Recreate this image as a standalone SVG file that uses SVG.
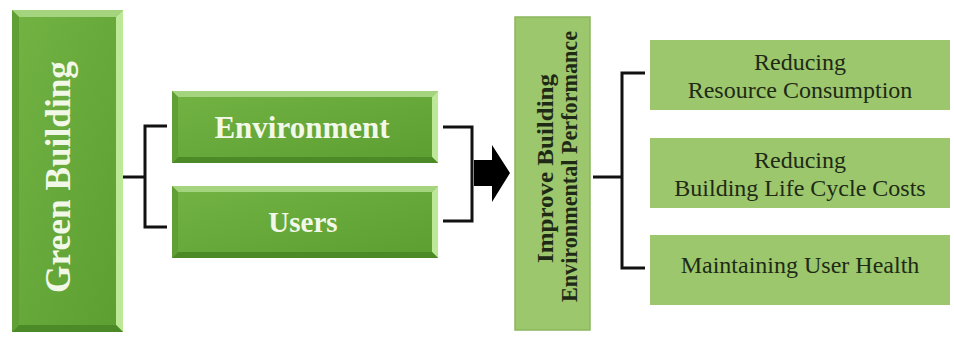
<svg xmlns="http://www.w3.org/2000/svg" width="954" height="338" viewBox="0 0 954 338">
<defs>
<linearGradient id="face" x1="0" y1="0" x2="1" y2="1">
<stop offset="0" stop-color="#72b344"/>
<stop offset="1" stop-color="#5c9e30"/>
</linearGradient>
<style>
.bt{fill:#a4d47e}
.br{fill:#bde898}
.bb{fill:#4b8a26}
.bl{fill:#5f9f33}
.face{fill:url(#face)}
.wt{font-family:"Liberation Serif","Times New Roman",serif;font-weight:bold;fill:#f2f8e8;text-anchor:middle}
.dt{font-family:"Liberation Serif","Times New Roman",serif;fill:#1e2a16;text-anchor:middle;font-size:24px}
.flat{fill:#9cc76c}
.ln{fill:none;stroke:#111;stroke-width:3}
</style>
</defs>
<rect width="954" height="338" fill="#ffffff"/>
<g id="green-building">
<rect x="12" y="10" width="111" height="322" class="face"/>
<polygon points="12,10 123,10 116,17 19,17" class="bt"/>
<polygon points="123,10 123,332 116,325 116,17" class="br"/>
<polygon points="12,332 123,332 116,325 19,325" class="bb"/>
<polygon points="12,10 19,17 19,325 12,332" class="bl"/>
<text class="wt" font-size="35" textLength="232" lengthAdjust="spacingAndGlyphs" transform="translate(70,177) rotate(-90)">Green Building</text>
</g>
<g id="environment">
<rect x="172" y="91" width="266" height="72" class="face"/>
<polygon points="172,91 438,91 432,97 178,97" class="bt"/>
<polygon points="438,91 438,163 432,157 432,97" class="br"/>
<polygon points="172,163 438,163 432,157 178,157" class="bb"/>
<polygon points="172,91 178,97 178,157 172,163" class="bl"/>
<text class="wt" x="302" y="138" font-size="31">Environment</text>
</g>
<g id="users">
<rect x="172" y="186" width="266" height="72" class="face"/>
<polygon points="172,186 438,186 432,192 178,192" class="bt"/>
<polygon points="438,186 438,258 432,252 432,192" class="br"/>
<polygon points="172,258 438,258 432,252 178,252" class="bb"/>
<polygon points="172,186 178,192 178,252 172,258" class="bl"/>
<text class="wt" x="303" y="232" font-size="29">Users</text>
</g>
<g id="improve">
<rect x="515" y="17" width="75" height="313" class="flat" stroke="#8ab75c" stroke-width="1.5"/>
<text class="dt" font-weight="bold" font-size="22" textLength="189" lengthAdjust="spacingAndGlyphs" transform="translate(553,168.5) rotate(-90)">Improve Building</text>
<text class="dt" font-weight="bold" font-size="22" textLength="271" lengthAdjust="spacingAndGlyphs" transform="translate(577,166.5) rotate(-90)">Environmental Performance</text>
</g>
<g id="reducing-resource">
<rect x="650" y="40" width="300" height="70" class="flat"/>
<text class="dt" x="800" y="70">Reducing</text>
<text class="dt" x="800" y="98">Resource Consumption</text>
</g>
<g id="reducing-costs">
<rect x="650" y="138" width="300" height="70" class="flat"/>
<text class="dt" x="800" y="168">Reducing</text>
<text class="dt" x="800" y="196">Building Life Cycle Costs</text>
</g>
<g id="maintaining-health">
<rect x="650" y="235" width="300" height="70" class="flat"/>
<text class="dt" x="800" y="273">Maintaining User Health</text>
</g>
<g id="connectors">
<path class="ln" d="M123,177 H145 M167,126 H145 V227 H167"/>
<path class="ln" d="M443,127 H472 V221 H443"/>
<polygon points="474,160 492,160 492,145 510,173 492,202 492,186 474,186" fill="#000"/>
<path class="ln" d="M593,177 H622 M645,73 H622 V268 H645"/>
</g>
</svg>
